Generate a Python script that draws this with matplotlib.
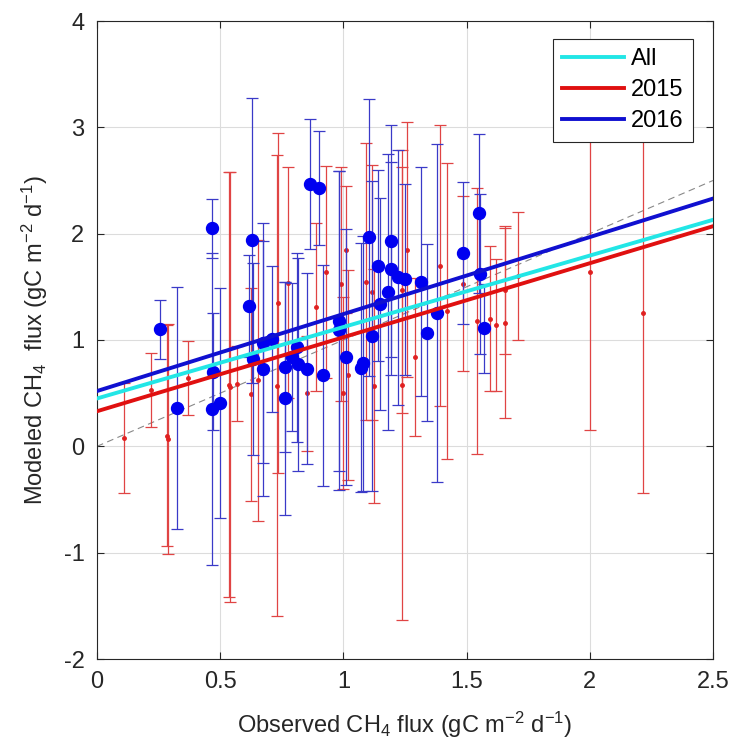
import numpy as np
import matplotlib
matplotlib.use("Agg")
import matplotlib.pyplot as plt

plt.rcParams['font.family'] = ['Liberation Sans', 'DejaVu Sans']
plt.rcParams['mathtext.fontset'] = 'custom'
plt.rcParams['mathtext.rm'] = 'Liberation Sans'
plt.rcParams['mathtext.it'] = 'Liberation Sans:italic'
plt.rcParams['axes.unicode_minus'] = False

# 2016 (blue) observed, modeled, error
obs_2016 = [0.255, 0.325, 0.466, 0.467, 0.47, 0.50, 0.617, 0.631, 0.634, 0.672,
            0.672, 0.712, 0.762, 0.762, 0.793, 0.81, 0.816, 0.853, 0.864, 0.90,
            0.918, 0.981, 0.981, 1.012, 1.073, 1.08, 1.104, 1.115, 1.141, 1.148,
            1.181, 1.192, 1.192, 1.222, 1.249, 1.314, 1.341, 1.38, 1.486, 1.551,
            1.556, 1.569]
mod_2016 = [1.10, 0.36, 2.05, 0.35, 0.70, 0.41, 1.32, 1.94, 0.82, 0.97,
            0.73, 1.01, 0.75, 0.45, 0.84, 0.93, 0.77, 0.73, 2.47, 2.43,
            0.67, 1.18, 1.09, 0.84, 0.74, 0.78, 1.965, 1.04, 1.70, 1.34,
            1.45, 1.93, 1.67, 1.59, 1.57, 1.55, 1.07, 1.25, 1.82, 2.19,
            1.62, 1.11]
err_2016 = [0.28, 1.14, 0.28, 1.47, 0.55, 1.08, 0.48, 1.34, 0.90, 1.13,
            1.20, 0.69, 0.80, 1.10, 0.70, 0.89, 1.00, 0.90, 0.61, 0.54,
            1.04, 1.41, 1.50, 1.20, 1.17, 1.20, 1.30, 1.46, 0.90, 1.00,
            1.30, 1.09, 1.00, 1.20, 0.90, 1.08, 0.83, 1.59, 0.67, 0.75,
            0.75, 0.42]

# 2015 (red) observed, modeled, error
obs_2015 = [0.11, 0.22, 0.285, 0.29, 0.37, 0.535, 0.54, 0.569, 0.623, 0.654,
            0.729, 0.735, 0.776, 0.853, 0.888, 0.929, 0.992, 1.0, 1.01, 1.02,
            1.091, 1.118, 1.123, 1.239, 1.239, 1.258, 1.29, 1.393, 1.42, 1.486,
            1.542, 1.594, 1.62, 1.655, 1.655, 1.707, 2.0, 2.215]
mod_2015 = [0.08, 0.53, 0.10, 0.07, 0.64, 0.58, 0.56, 0.59, 0.49, 0.62,
            0.57, 1.35, 1.54, 0.50, 1.31, 1.64, 1.53, 0.50, 1.85, 0.67,
            1.55, 1.45, 0.57, 1.47, 0.58, 1.85, 0.84, 1.70, 1.27, 1.53,
            1.18, 1.20, 1.14, 1.47, 1.16, 1.60, 1.64, 1.25]
err_2015 = [0.52, 0.35, 1.04, 1.08, 0.35, 2.00, 2.02, 0.35, 1.00, 1.32,
            2.17, 1.60, 1.09, 0.54, 0.79, 1.00, 1.10, 0.90, 0.60, 0.99,
            1.30, 1.20, 1.10, 1.16, 2.21, 1.20, 0.74, 1.32, 1.39, 0.82,
            1.25, 0.68, 0.62, 0.60, 0.89, 0.60, 1.49, 1.69]

# regression lines: intercept, slope
fit_labels = ['All', '2015', '2016']
fit_intercept = [0.45, 0.33, 0.52]
fit_slope = [0.672, 0.696, 0.724]
fit_colors = ['#22e6e6', '#e01010', '#1010d0']

xlim = (0, 2.5)
ylim = (-2, 4)

fig = plt.figure(figsize=(7.33, 7.52), dpi=100)
ax = fig.add_axes([97/733, 1-659/752, 616/733, 638/752])

# 1:1 line
xx = np.array(xlim)
ax.plot(xx, xx, ls=(0, (6, 4)), color='#888888', lw=0.8, zorder=2)

ax.errorbar(obs_2015, mod_2015, yerr=err_2015, fmt='o', ms=2.5, color='#e02020',
            ecolor='#e04444', elinewidth=0.9, capsize=4.3, capthick=0.9, zorder=3)
ax.errorbar(obs_2016, mod_2016, yerr=err_2016, fmt='o', ms=8.6, color='#0000f0',
            mec='#0000f0', ecolor='#3a3ac8', elinewidth=0.9, capsize=4.3,
            capthick=0.9, zorder=4)

handles = []
for lab, b, m, c in zip(fit_labels, fit_intercept, fit_slope, fit_colors):
    h, = ax.plot(xx, b + m * xx, color=c, lw=2.8, label=lab, zorder=5)
    handles.append(h)

ax.set_xlim(*xlim)
ax.set_ylim(*ylim)
ax.set_xticks([0, 0.5, 1, 1.5, 2, 2.5])
ax.set_xticklabels(['0', '0.5', '1', '1.5', '2', '2.5'])
ax.set_yticks([-2, -1, 0, 1, 2, 3, 4])
ax.grid(True, color='#dcdcdc', lw=0.8)
ax.set_axisbelow(True)
ax.tick_params(direction='in', length=5, width=0.8, top=True, right=True,
               labelsize=17, colors='#262626', pad=9)
for s in ax.spines.values():
    s.set_color('#262626')
    s.set_linewidth(0.8)

ax.set_xlabel('Observed CH$_4$ flux (gC m$^{-2}$ d$^{-1}$)', fontsize=17,
              color='#262626', labelpad=12)
ax.set_ylabel('Modeled CH$_4$  flux (gC m$^{-2}$ d$^{-1}$)', fontsize=17,
              color='#262626', labelpad=10)

leg = ax.legend(handles=handles, loc='upper right', bbox_to_anchor=(0.9675, 0.9718),
                borderaxespad=0, fontsize=17, handlelength=2.6, handletextpad=0.3,
                labelspacing=0.38, borderpad=0.4, fancybox=False, framealpha=1,
                edgecolor='#262626')
leg.get_frame().set_linewidth(0.8)

fig.savefig('out.png', dpi=100)
